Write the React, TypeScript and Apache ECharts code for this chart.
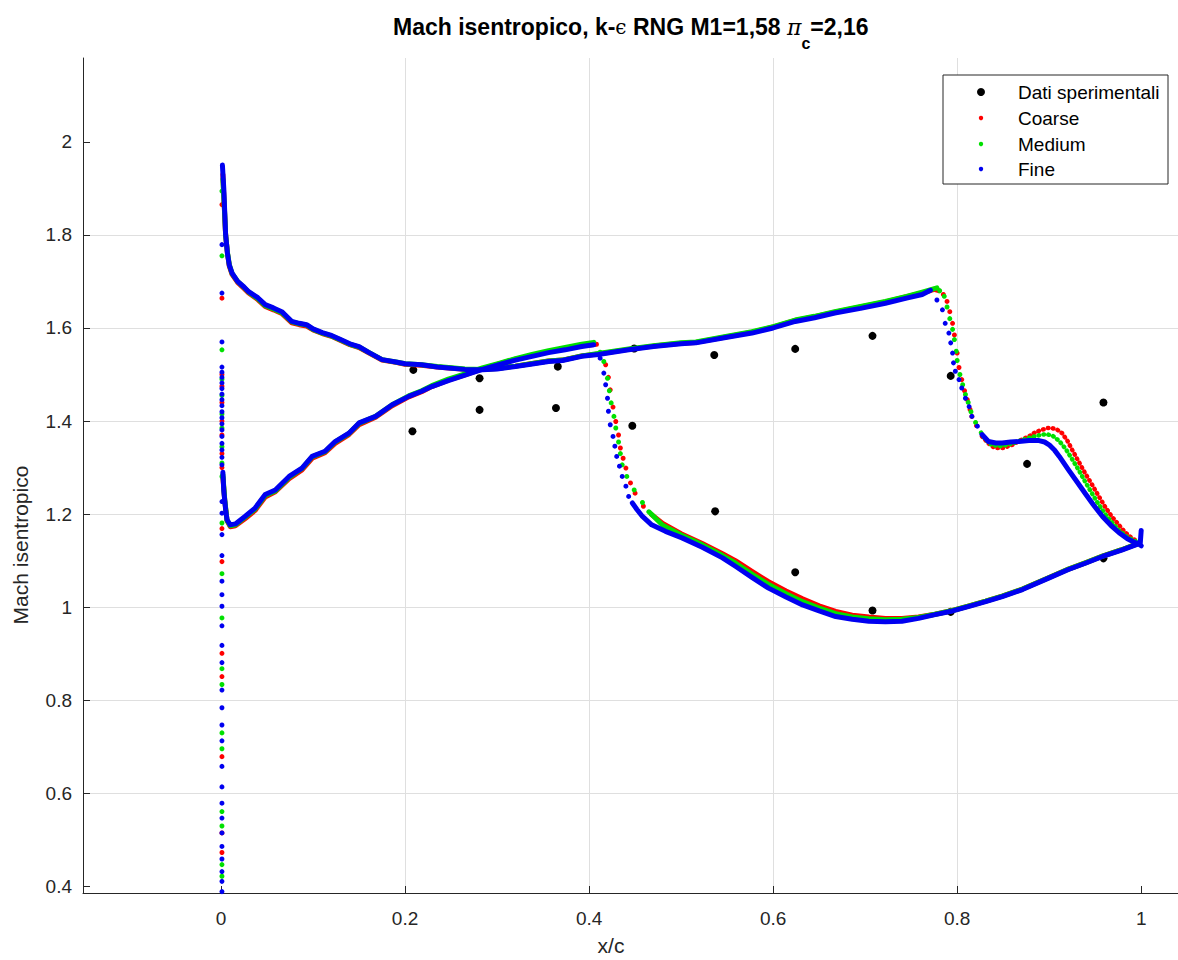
import React, { useEffect, useRef } from 'react';
import * as echarts from 'echarts';

const FONT = '"Liberation Sans", Arial, Helvetica, sans-serif';
const SERIF = '"DejaVu Serif", "Liberation Serif", serif';

type P = [number, number];

const xTicks = [0, 0.2, 0.4, 0.6, 0.8, 1];
const yTicks = [0.4, 0.6, 0.8, 1, 1.2, 1.4, 1.6, 1.8, 2];

const legendNames = ['Dati sperimentali', 'Coarse', 'Medium', 'Fine'];

// Experimental data (Dati sperimentali)
const expSuction: P[] = [[0.209, 1.51], [0.281, 1.492], [0.366, 1.517], [0.449, 1.556], [0.536, 1.542], [0.624, 1.555], [0.708, 1.583], [0.793, 1.497], [0.876, 1.308], [0.959, 1.44]];
const expPressure: P[] = [[0.208, 1.378], [0.281, 1.424], [0.364, 1.428], [0.447, 1.39], [0.537, 1.206], [0.624, 1.075], [0.708, 0.993], [0.793, 0.99], [0.959, 1.105]];

// Leading edge column (x/c ~ 0)
const LE_X = 0.001;
const fineLeadingY = [1.779, 1.675, 1.57, 1.516, 1.505, 1.494, 1.482, 1.47, 1.458, 1.446, 1.433, 1.42, 1.407, 1.394, 1.381, 1.367, 1.352, 1.338, 1.322, 1.306, 1.227, 1.202, 1.156, 1.111, 1.056, 1.027, 1.002, 0.96, 0.918, 0.881, 0.822, 0.784, 0.747, 0.713, 0.658, 0.614, 0.579, 0.547, 0.515, 0.486, 0.459, 0.432, 0.411, 0.389];
const coarseLeadingY = [1.865, 1.664, 1.5, 1.475, 1.44, 1.4, 1.37, 1.33, 1.3, 1.169, 1.098, 0.901, 0.851, 0.679, 0.515, 0.473];
const mediumLeadingY = [1.894, 1.755, 1.553, 1.49, 1.455, 1.415, 1.385, 1.345, 1.31, 1.281, 1.181, 1.072, 0.977, 0.868, 0.834, 0.73, 0.696, 0.561, 0.53, 0.447, 0.422];

// Suction side (upper branch)
const fineSuction: P[] = [[0.0015, 1.95], [0.003, 1.9], [0.004, 1.85], [0.005, 1.8], [0.007, 1.76], [0.009, 1.735], [0.012, 1.718], [0.018, 1.7], [0.025, 1.688], [0.03, 1.678], [0.04, 1.665], [0.048, 1.65], [0.057, 1.643], [0.066, 1.635], [0.077, 1.614], [0.085, 1.61], [0.093, 1.607], [0.1, 1.598], [0.11, 1.59], [0.12, 1.584], [0.13, 1.575], [0.14, 1.566], [0.15, 1.56], [0.16, 1.548], [0.175, 1.532], [0.19, 1.527], [0.2, 1.523], [0.218, 1.521], [0.235, 1.516], [0.2475, 1.514], [0.265, 1.511], [0.284, 1.51], [0.3, 1.512], [0.32, 1.517], [0.34, 1.523], [0.356, 1.528], [0.371, 1.53], [0.392, 1.539], [0.41, 1.543], [0.443, 1.553], [0.47, 1.56], [0.5, 1.566], [0.516, 1.568], [0.55, 1.58], [0.577, 1.589], [0.6, 1.6], [0.624, 1.614], [0.645, 1.622], [0.667, 1.632], [0.695, 1.642], [0.722, 1.653], [0.745, 1.664], [0.762, 1.672], [0.771, 1.681]];
const coarseSuction: P[] = [[0.002, 1.93], [0.004, 1.84], [0.005, 1.8], [0.007, 1.76], [0.009, 1.733], [0.012, 1.715], [0.018, 1.698], [0.025, 1.685], [0.03, 1.675], [0.04, 1.661], [0.048, 1.646], [0.057, 1.639], [0.066, 1.631], [0.077, 1.611], [0.085, 1.607], [0.093, 1.604], [0.1, 1.596], [0.11, 1.588], [0.12, 1.582], [0.13, 1.573], [0.14, 1.564], [0.15, 1.558], [0.16, 1.547], [0.175, 1.531], [0.19, 1.526], [0.2, 1.522], [0.218, 1.52], [0.235, 1.516], [0.2475, 1.514], [0.265, 1.511], [0.284, 1.511], [0.3, 1.513], [0.32, 1.518], [0.34, 1.524], [0.356, 1.529], [0.371, 1.531], [0.392, 1.54], [0.41, 1.544], [0.443, 1.554], [0.47, 1.561], [0.5, 1.567], [0.516, 1.569], [0.55, 1.581], [0.577, 1.591], [0.6, 1.602], [0.624, 1.616], [0.645, 1.624], [0.667, 1.634], [0.695, 1.645], [0.722, 1.656], [0.745, 1.667], [0.762, 1.675], [0.775, 1.683], [0.78, 1.68]];
const mediumSuction: P[] = [[0.002, 1.92], [0.004, 1.845], [0.005, 1.8], [0.007, 1.762], [0.009, 1.736], [0.012, 1.717], [0.018, 1.7], [0.025, 1.687], [0.03, 1.677], [0.04, 1.663], [0.048, 1.648], [0.057, 1.641], [0.066, 1.633], [0.077, 1.613], [0.085, 1.609], [0.093, 1.606], [0.1, 1.597], [0.11, 1.589], [0.12, 1.583], [0.13, 1.574], [0.14, 1.565], [0.15, 1.559], [0.16, 1.548], [0.175, 1.532], [0.19, 1.527], [0.2, 1.523], [0.218, 1.521], [0.235, 1.517], [0.2475, 1.515], [0.265, 1.512], [0.284, 1.511], [0.3, 1.513], [0.32, 1.518], [0.34, 1.524], [0.356, 1.529], [0.371, 1.531], [0.392, 1.54], [0.41, 1.545], [0.443, 1.555], [0.47, 1.562], [0.5, 1.568], [0.516, 1.57], [0.55, 1.582], [0.577, 1.592], [0.6, 1.603], [0.624, 1.617], [0.645, 1.625], [0.667, 1.635], [0.695, 1.646], [0.722, 1.657], [0.745, 1.668], [0.762, 1.677], [0.778, 1.686]];

const fineSuctionShock: P[] = [[0.778, 1.66], [0.784, 1.639], [0.787, 1.61], [0.791, 1.589], [0.793, 1.568], [0.795, 1.546], [0.796, 1.525], [0.798, 1.507], [0.802, 1.489], [0.805, 1.471], [0.809, 1.449], [0.813, 1.431], [0.816, 1.41], [0.822, 1.389]];
const coarseSuctionShock: P[] = [[0.785, 1.672], [0.789, 1.657], [0.792, 1.635], [0.795, 1.61], [0.797, 1.585], [0.8, 1.546], [0.802, 1.515], [0.805, 1.489], [0.808, 1.465], [0.811, 1.446], [0.814, 1.425], [0.816, 1.41], [0.821, 1.39]];
const mediumSuctionShock: P[] = [[0.781, 1.68], [0.786, 1.668], [0.789, 1.645], [0.792, 1.62], [0.795, 1.597], [0.797, 1.575], [0.799, 1.55], [0.8, 1.53], [0.803, 1.5], [0.806, 1.478], [0.809, 1.457], [0.812, 1.44], [0.815, 1.42], [0.82, 1.397]];

const fineSuctionAft: P[] = [[0.827, 1.371], [0.834, 1.356], [0.842, 1.353], [0.849, 1.353], [0.858, 1.355], [0.867, 1.356], [0.878, 1.358], [0.889, 1.358], [0.895, 1.355], [0.9, 1.349], [0.906, 1.337], [0.911, 1.324], [0.921, 1.295], [0.93, 1.27], [0.939, 1.245], [0.948, 1.22], [0.958, 1.195], [0.967, 1.176], [0.976, 1.16], [0.985, 1.147], [0.994, 1.138], [0.999, 1.138], [1.0, 1.165]];
const coarseSuctionAft: P[] = [[0.827, 1.367], [0.834, 1.352], [0.841, 1.342], [0.85, 1.342], [0.86, 1.349], [0.87, 1.36], [0.878, 1.367], [0.885, 1.376], [0.892, 1.381], [0.898, 1.385], [0.903, 1.385], [0.909, 1.381], [0.914, 1.374], [0.92, 1.357], [0.925, 1.338], [0.932, 1.313], [0.939, 1.288], [0.947, 1.262], [0.954, 1.238], [0.961, 1.215], [0.968, 1.195], [0.976, 1.176], [0.983, 1.16], [0.99, 1.148], [0.997, 1.141]];
const mediumSuctionAft: P[] = [[0.826, 1.375], [0.83, 1.362], [0.838, 1.348], [0.848, 1.346], [0.86, 1.352], [0.87, 1.359], [0.88, 1.365], [0.89, 1.37], [0.897, 1.372], [0.904, 1.368], [0.911, 1.357], [0.918, 1.34], [0.925, 1.318], [0.932, 1.295], [0.939, 1.27], [0.947, 1.243], [0.954, 1.22], [0.961, 1.2], [0.969, 1.18], [0.976, 1.165], [0.984, 1.152], [0.992, 1.143], [0.998, 1.139]];

// Pressure side (lower branch)
const finePressure: P[] = [[0.002, 1.29], [0.003, 1.25], [0.005, 1.21], [0.0065, 1.188], [0.01, 1.177], [0.0156, 1.179], [0.026, 1.195], [0.037, 1.213], [0.048, 1.242], [0.059, 1.252], [0.074, 1.281], [0.088, 1.299], [0.099, 1.324], [0.113, 1.335], [0.124, 1.356], [0.139, 1.374], [0.15, 1.396], [0.168, 1.41], [0.186, 1.435], [0.204, 1.453], [0.218, 1.464], [0.229, 1.474], [0.247, 1.487], [0.266, 1.499], [0.284, 1.511], [0.302, 1.521], [0.32, 1.531], [0.338, 1.539], [0.356, 1.547], [0.374, 1.553], [0.392, 1.56], [0.405, 1.564]];
const coarsePressure: P[] = [[0.002, 1.28], [0.004, 1.23], [0.0065, 1.186], [0.01, 1.173], [0.0156, 1.175], [0.026, 1.19], [0.037, 1.208], [0.048, 1.237], [0.059, 1.248], [0.074, 1.276], [0.088, 1.295], [0.099, 1.32], [0.113, 1.332], [0.124, 1.352], [0.139, 1.371], [0.15, 1.392], [0.168, 1.408], [0.186, 1.433], [0.204, 1.452], [0.218, 1.463], [0.229, 1.474], [0.247, 1.488], [0.266, 1.5], [0.284, 1.512], [0.302, 1.523], [0.32, 1.533], [0.338, 1.541], [0.356, 1.549], [0.374, 1.556], [0.392, 1.562], [0.408, 1.565]];
const mediumPressure: P[] = [[0.002, 1.285], [0.004, 1.232], [0.0065, 1.187], [0.01, 1.175], [0.0156, 1.177], [0.026, 1.193], [0.037, 1.211], [0.048, 1.24], [0.059, 1.25], [0.074, 1.279], [0.088, 1.298], [0.099, 1.323], [0.113, 1.334], [0.124, 1.355], [0.139, 1.373], [0.15, 1.395], [0.168, 1.41], [0.186, 1.435], [0.204, 1.454], [0.218, 1.465], [0.229, 1.476], [0.247, 1.49], [0.266, 1.502], [0.284, 1.514], [0.302, 1.524], [0.32, 1.534], [0.338, 1.543], [0.356, 1.551], [0.374, 1.558], [0.392, 1.565], [0.405, 1.569]];

const finePressureShock: P[] = [[0.412, 1.535], [0.416, 1.503], [0.418, 1.478], [0.42, 1.449], [0.421, 1.421], [0.423, 1.392], [0.426, 1.367], [0.428, 1.346], [0.43, 1.324], [0.433, 1.303], [0.436, 1.281], [0.44, 1.26], [0.443, 1.238]];
const coarsePressureShock: P[] = [[0.414, 1.545], [0.418, 1.521], [0.421, 1.494], [0.423, 1.467], [0.426, 1.43], [0.429, 1.399], [0.432, 1.37], [0.434, 1.342], [0.437, 1.32], [0.44, 1.299], [0.445, 1.267], [0.45, 1.245], [0.459, 1.217]];
const mediumPressureShock: P[] = [[0.412, 1.548], [0.416, 1.528], [0.42, 1.492], [0.422, 1.465], [0.424, 1.439], [0.427, 1.41], [0.429, 1.385], [0.432, 1.355], [0.434, 1.33], [0.436, 1.306], [0.441, 1.281], [0.449, 1.252], [0.458, 1.225]];

const finePressureAft: P[] = [[0.447, 1.224], [0.452, 1.21], [0.458, 1.195], [0.468, 1.177], [0.483, 1.163], [0.501, 1.149], [0.523, 1.129], [0.545, 1.106], [0.559, 1.088], [0.577, 1.064], [0.595, 1.041], [0.614, 1.022], [0.632, 1.005], [0.65, 0.992], [0.668, 0.98], [0.686, 0.974], [0.704, 0.97], [0.722, 0.969], [0.74, 0.97], [0.758, 0.976], [0.776, 0.984], [0.795, 0.992], [0.813, 1.002], [0.831, 1.012], [0.849, 1.023], [0.871, 1.038], [0.9, 1.063], [0.921, 1.081], [0.94, 1.095], [0.958, 1.109], [0.978, 1.122], [0.997, 1.136], [1.0, 1.132]];
const coarsePressureAft: P[] = [[0.468, 1.199], [0.48, 1.18], [0.5, 1.158], [0.523, 1.137], [0.545, 1.115], [0.559, 1.1], [0.577, 1.077], [0.595, 1.055], [0.614, 1.035], [0.632, 1.018], [0.65, 1.003], [0.668, 0.991], [0.686, 0.983], [0.704, 0.979], [0.722, 0.976], [0.74, 0.976], [0.758, 0.979], [0.776, 0.985], [0.795, 0.993], [0.813, 1.003], [0.831, 1.013], [0.849, 1.024], [0.871, 1.039], [0.9, 1.064], [0.921, 1.082], [0.94, 1.096], [0.958, 1.11], [0.978, 1.123], [0.997, 1.137]];
const mediumPressureAft: P[] = [[0.465, 1.205], [0.48, 1.176], [0.5, 1.155], [0.523, 1.134], [0.545, 1.111], [0.559, 1.095], [0.577, 1.071], [0.595, 1.049], [0.614, 1.029], [0.632, 1.012], [0.65, 0.998], [0.668, 0.986], [0.686, 0.979], [0.704, 0.975], [0.722, 0.973], [0.74, 0.974], [0.758, 0.978], [0.776, 0.985], [0.795, 0.993], [0.813, 1.003], [0.831, 1.013], [0.849, 1.024], [0.871, 1.039], [0.9, 1.064], [0.921, 1.082], [0.94, 1.096], [0.958, 1.11], [0.978, 1.123], [0.997, 1.137]];

const models = [
  { name: 'Coarse', color: '#ff0000', z: 3, dottedAft: true, leading: coarseLeadingY, suction: coarseSuction, suctionShock: coarseSuctionShock, suctionAft: coarseSuctionAft, pressure: coarsePressure, pressureShock: coarsePressureShock, pressureAft: coarsePressureAft },
  { name: 'Medium', color: '#00e000', z: 4, dottedAft: true, leading: mediumLeadingY, suction: mediumSuction, suctionShock: mediumSuctionShock, suctionAft: mediumSuctionAft, pressure: mediumPressure, pressureShock: mediumPressureShock, pressureAft: mediumPressureAft },
  { name: 'Fine', color: '#0000f0', z: 5, dottedAft: false, leading: fineLeadingY, suction: fineSuction, suctionShock: fineSuctionShock, suctionAft: fineSuctionAft, pressure: finePressure, pressureShock: finePressureShock, pressureAft: finePressureAft },
];

function buildOption() {
  const series: any[] = [
    {
      name: legendNames[0], type: 'scatter', data: [...expSuction, ...expPressure],
      symbol: 'circle', symbolSize: 8, itemStyle: { color: '#000', opacity: 1 }, z: 2, silent: true,
    },
  ];
  models.forEach((m) => {
    const line = (data: P[], dotted: boolean) => ({
      name: m.name, type: 'line', data, showSymbol: false, symbol: 'none', silent: true, z: m.z,
      lineStyle: dotted
        ? { color: m.color, width: 4.5, type: [0.5, 4.5], cap: 'round', join: 'round', opacity: 1 }
        : { color: m.color, width: 5, cap: 'round', join: 'round', opacity: 1 },
      itemStyle: { color: m.color },
    });
    series.push(line(m.suction, false));
    series.push(line(m.suctionAft, m.dottedAft));
    series.push(line(m.pressure, false));
    series.push(line(m.pressureAft, false));
    series.push({
      name: m.name, type: 'scatter', silent: true, z: m.z, symbol: 'circle', symbolSize: 5,
      itemStyle: { color: m.color, opacity: 1 },
      data: [...m.leading.map((y) => [LE_X, y]), ...m.suctionShock, ...m.pressureShock],
    });
  });

  const legendRows = [
    { name: legendNames[0], color: '#000', r: 4, y: 92 },
    { name: legendNames[1], color: '#ff0000', r: 2.2, y: 118 },
    { name: legendNames[2], color: '#00e000', r: 2.2, y: 144 },
    { name: legendNames[3], color: '#0000f0', r: 2.2, y: 169 },
  ];

  const graphic: any[] = [
    {
      type: 'rect', z: 100, shape: { x: 943, y: 75, width: 225, height: 109 },
      style: { fill: '#fff', stroke: '#262626', lineWidth: 1 },
    },
    ...legendRows.map((r) => ({
      type: 'circle', z: 101, shape: { cx: 981, cy: r.y, r: r.r }, style: { fill: r.color },
    })),
    ...legendRows.map((r) => ({
      type: 'text', z: 101, x: 1018, y: r.y,
      style: { text: r.name, fontSize: 19, fontFamily: FONT, fill: '#000', align: 'left', verticalAlign: 'middle' },
    })),
    {
      type: 'text', z: 101, x: 20, y: 545, rotation: Math.PI / 2,
      style: { text: 'Mach isentropico', fontSize: 21, fontFamily: FONT, fill: '#262626', align: 'center', verticalAlign: 'middle' },
    },
    {
      type: 'text', z: 101, x: 611, y: 945,
      style: { text: 'x/c', fontSize: 21, fontFamily: FONT, fill: '#262626', align: 'center', verticalAlign: 'middle' },
    },
  ];

  return {
    animation: false,
    backgroundColor: '#fff',
    title: {
      left: 393, top: 15, padding: 0,
      text: '{m|Mach isentropico, k-}{e|ϵ}{m| RNG M1=1,58 }{p|π}{s|c}{m|=2,16}',
      textStyle: {
        rich: {
          m: { fontSize: 23, fontWeight: 'bold', fontFamily: FONT, color: '#000', lineHeight: 23, verticalAlign: 'top', padding: [0, 0, 0, 0] },
          e: { fontSize: 20, fontWeight: 'normal', fontFamily: SERIF, color: '#000', lineHeight: 23, verticalAlign: 'top', padding: [2, 0, 0, 0] },
          p: { fontSize: 22, fontWeight: 'normal', fontStyle: 'italic', fontFamily: SERIF, color: '#000', lineHeight: 23, verticalAlign: 'top', padding: [1, 0, 0, 0] },
          s: { fontSize: 16, fontWeight: 'bold', fontFamily: FONT, color: '#000', verticalAlign: 'top', padding: [20, 0, 0, 0] },
        },
      },
    },
    grid: { left: 83, top: 58, right: 0, bottom: 67, containLabel: false },
    xAxis: {
      type: 'value', min: -0.15, max: 1.04, splitNumber: 6,
      axisLine: { show: true, onZero: false, lineStyle: { color: '#262626', width: 1 } },
      axisTick: { show: true, inside: true, length: 7, customValues: xTicks, lineStyle: { color: '#262626' } },
      axisLabel: { customValues: xTicks, margin: 16, fontSize: 19, fontFamily: FONT, color: '#262626' },
      splitLine: { show: true, showMinLine: false, showMaxLine: false, lineStyle: { color: '#dfdfdf', width: 1 } },
    },
    yAxis: {
      type: 'value', min: 0.386, max: 2.18, splitNumber: 9,
      axisLine: { show: true, onZero: false, lineStyle: { color: '#262626', width: 1 } },
      axisTick: { show: true, inside: true, length: 7, customValues: yTicks, lineStyle: { color: '#262626' } },
      axisLabel: { customValues: yTicks, margin: 11, fontSize: 19, fontFamily: FONT, color: '#262626' },
      splitLine: { show: true, showMinLine: false, showMaxLine: false, lineStyle: { color: '#dfdfdf', width: 1 } },
    },
    graphic,
    series,
  };
}

export default function App() {
  const ref = useRef<HTMLDivElement>(null);
  useEffect(() => {
    if (!ref.current) return;
    const chart = echarts.init(ref.current, undefined, { renderer: 'svg' });
    chart.setOption(buildOption() as any);
    return () => chart.dispose();
  }, []);
  return (
    <div
      ref={ref}
      style={{ position: 'fixed', left: 0, top: 0, width: 1178, height: 960, background: '#fff' }}
    />
  );
}
